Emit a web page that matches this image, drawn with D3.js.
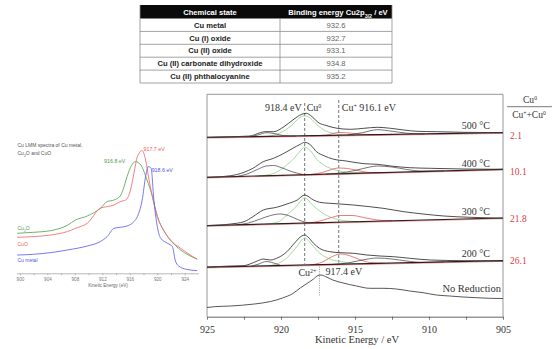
<!DOCTYPE html>
<html>
<head>
<meta charset="utf-8">
<script src="https://cdn.jsdelivr.net/npm/d3@7"></script>
<style>
  html, body { margin: 0; padding: 0; background: #fff; }
  svg { display: block; }
</style>
</head>
<body>
<div id="chart"></div>
<script>
// ---- table: Cu 2p3/2 binding energies
const tableStates = ['Cu metal', 'Cu (I) oxide', 'Cu (II) oxide', 'Cu (II) carbonate dihydroxide', 'Cu (II) phthalocyanine'];
const tableEnergies = ['932.6', '932.7', '933.1', '934.8', '935.2'];

// ---- left: Cu LMM reference spectra [kinetic energy eV, intensity a.u.]
const lmmTicks = [900, 904, 908, 912, 916, 920, 924];
const cu2oLmm = [[899.6, 40], [902, 41], [904.5, 42.7], [906.9, 48], [908.1, 53.3], [909.8, 57.3], [911.7, 65], [912.7, 71.7], [913.7, 73.3], [914.6, 77.3], [915, 83.3], [915.6, 96.7], [916.1, 106], [916.6, 111], [916.8, 111.7], [917.6, 108.3], [918.5, 93.3], [919.3, 76.7], [920, 56.7], [920.9, 43.3], [921.9, 33.3], [923.4, 23.3], [925.8, 14.3]];
const cuoLmm = [[899.6, 36], [902, 36.7], [904.5, 38.3], [906.9, 41.7], [908.1, 45], [909.8, 50], [911.7, 65], [912.7, 66.7], [913.7, 68.3], [914.6, 71.7], [915.4, 73.3], [916.1, 83.3], [916.6, 100], [917.1, 116.7], [917.8, 122.7], [918.3, 113.3], [918.8, 93.3], [919.5, 70], [920.2, 53.3], [920.9, 43.3], [921.9, 33.3], [923.4, 25], [925.8, 14]];
const cuMetalLmm = [[899.6, 18.3], [902, 19], [904.5, 20.7], [906.9, 23.3], [909.8, 27.3], [911.7, 31.7], [912.7, 36.7], [913.7, 45], [914.6, 46], [915.6, 47.3], [916.6, 51.7], [917.1, 56.7], [917.8, 73.3], [918.3, 96.7], [918.7, 106.7], [919.1, 105], [919.5, 73.3], [920, 46.7], [920.5, 35], [921.5, 30], [922.2, 26.7], [922.6, 13.3], [923.1, 7.3], [924.3, 3.9], [925.8, 2.7]];
const lmmPeaks = [
  { label: '916.8 eV', e: 916.8, v: 111.7, color: '#4f9a4a' },
  { label: '917.7 eV', e: 917.7, v: 122.7, color: '#ee5a5a' },
  { label: '918.6 eV', e: 918.6, v: 106.7, color: '#5252ee' }
];

// ---- right: Auger spectra after reduction [kinetic energy eV, intensity a.u.]
const augerTicks = [925, 920, 915, 910, 905];
const temps = ['500 °C', '400 °C', '300 °C', '200 °C'];
const ratios = ['2.1', '10.1', '21.8', '26.1'];

const raw500 = [[925, 179.3], [923.4, 180], [922.1, 180.7], [921.4, 184], [921.1, 185], [920.5, 185], [919.8, 190], [919.2, 196.7], [918.6, 202.4], [918.3, 203.4], [917.9, 200], [917.5, 194.4], [916.9, 191], [916.2, 188.4], [915.3, 187.4], [914.4, 188.4], [913.5, 189.4], [912.6, 188.4], [911.7, 186.7], [910.8, 185.4], [909.5, 185], [907.7, 184.4], [905, 184]];
const base500 = [[925, 179.3], [905, 184]];
const cu0_500 = [[921, 180.2], [920.3, 182.4], [919.7, 186.7], [919.2, 192.4], [918.8, 198.4], [918.4, 201], [918, 198.4], [917.6, 192.4], [917.1, 186.7], [916.5, 183.4], [915.6, 181.7], [915, 181.6]];
const cuI_500 = [[918, 180.9], [917, 181.5], [916.1, 184.2], [915, 183.2], [914, 182], [913, 182.1]];
const satL_500 = [[922, 180.1], [921.5, 182], [921, 184], [920.4, 183], [919.8, 181], [919, 180.4]];
const satR_500 = [[915.5, 181.7], [914.5, 184], [913.5, 187], [912.5, 185.5], [911.5, 183.5], [910.3, 182.6]];

const raw400 = [[925, 139.4], [923.4, 141], [922.5, 144.4], [921.9, 148.4], [921.2, 155], [920.5, 158.4], [919.8, 163.4], [919.2, 168.4], [918.7, 172.4], [918.4, 174.4], [918, 171.7], [917.6, 165], [917.1, 161], [916.5, 157.7], [915.6, 155.7], [914.4, 153], [913.5, 152.4], [912.6, 150.7], [911.3, 149], [909.9, 148.4], [907.7, 147.7], [905, 147.4]];
const base400 = [[925, 139.4], [905, 147.4]];
const cu0_400 = [[921.5, 140.8], [920.5, 143.2], [919.7, 150.7], [919.1, 158.7], [918.7, 165.7], [918.4, 169.7], [918, 165.7], [917.6, 157.7], [917, 150.7], [916.3, 146.7], [915.3, 144.2], [914, 143.9]];
const cuI_400 = [[918, 142.2], [917.2, 144.2], [916.6, 147.2], [916.1, 148.7], [915.5, 148.2], [914.8, 146.2], [914, 144.2], [913, 144.2]];
const satL_400 = [[923, 140.2], [922.3, 142.7], [921.6, 147.2], [921, 150.7], [920.5, 151.2], [920, 149.2], [919.3, 145.2], [918.5, 142.2]];
const satR_400 = [[917, 142.6], [916, 143.7], [915, 146.2], [914, 149.7], [913.5, 150.7], [912.5, 149.7], [911.5, 147.2], [910.5, 145.7], [909, 145.8]];

const raw300 = [[925, 91.1], [923.4, 92.7], [922.5, 95], [921.9, 100], [921.2, 106.7], [920.3, 109.4], [919.6, 112.7], [918.9, 116.7], [918.4, 121.7], [917.8, 116.7], [917.4, 114.4], [916.7, 113.4], [916, 112.7], [915.1, 111.7], [914, 110], [913.1, 108.4], [911.7, 105], [910.4, 102.7], [909, 100.7], [907.2, 99.4], [905, 98.4]];
const base300 = [[925, 91.1], [905, 98.7]];
const cu0_300 = [[921, 92.7], [920.2, 94.7], [919.6, 101.7], [919, 109.7], [918.4, 118.7], [917.8, 110.7], [917.2, 103.7], [916.5, 98.7], [915.8, 96.2], [914.8, 95]];
const cuI_300 = [[918.5, 93.6], [917.5, 95.2], [916.7, 98.7], [916, 101.2], [915.2, 101.2], [914.4, 99.2], [913.5, 96.7], [912.5, 95.8]];
const satL_300 = [[923, 91.9], [922.2, 93.7], [921.4, 97.7], [920.7, 101.2], [920.1, 102.7], [919.5, 101.2], [918.8, 96.7], [918, 93.7], [917, 94.1]];

const raw200 = [[925, 49.5], [923.4, 50.7], [922.5, 51], [922.1, 52.7], [921.6, 55.7], [921.2, 57.7], [920.7, 56.7], [920.3, 58.4], [919.6, 65], [919.1, 73.4], [918.6, 80.7], [918.4, 81.7], [918.2, 80], [917.8, 73.4], [917.4, 68.4], [916.7, 65], [916, 64], [915.1, 63.4], [914.2, 61.7], [913.3, 60.7], [912.4, 60], [911.3, 58.4], [909.9, 56.7], [907.7, 56], [905, 55.7]];
const base200 = [[925, 49.5], [905, 56]];
const cu0_200 = [[920.8, 50.9], [920, 54.7], [919.4, 61.7], [918.9, 70.7], [918.4, 78.7], [917.9, 71.7], [917.4, 63.7], [916.8, 58.2], [916, 55.2], [915, 53.1]];
const cuI_200 = [[918, 51.8], [917.2, 54.7], [916.6, 59.7], [916, 62.7], [915.4, 61.2], [914.7, 57.2], [914, 54.2], [913, 53.4]];
const satL_200 = [[922, 50.5], [921.5, 52.7], [921, 55.2], [920.5, 53.7], [920, 51.1]];
const satR_200 = [[916.5, 52.3], [915.5, 53.7], [914.5, 56.7], [913.5, 58.7], [912.5, 57.7], [911.5, 55.7], [910.5, 54.2], [909, 54.7]];

const rawNoReduction = [[925, 9.2], [924.5, 10], [923.4, 10.7], [921.8, 12.7], [920.7, 15.2], [919.9, 18.7], [919.2, 23.2], [918.7, 28.7], [918.3, 32.7], [917.8, 37.7], [917.5, 41.2], [917.3, 41.7], [917, 40.2], [916.5, 36.7], [915.8, 33.7], [914.9, 30.7], [914, 28.4], [913.1, 28.4], [912.2, 27.7], [911.3, 25.7], [910.4, 24], [909.5, 21.7], [908.6, 20.7], [907.7, 19.7], [906.8, 19], [905.9, 18.4], [905, 18.2]];

const cu0Energy = 918.4;
const cuIEnergy = 916.1;
const cuIIEnergy = 917.4;

// ------------------------------------------------------------------
const svg = d3.select('#chart').append('svg')
  .attr('width', 553).attr('height', 349)
  .style('background', '#fff');

const sans = "'Liberation Sans', 'Open Sans', Arial, sans-serif";
const serif = "'Liberation Serif', 'DejaVu Serif', serif";

// text with superscript parts: parts = [[str, isSup], ...]
function richText(g, x, y, parts, anchor) {
  const t = g.append('text').attr('x', x).attr('y', y).attr('text-anchor', anchor || 'start');
  parts.forEach(([s, sup]) => {
    const ts = t.append('tspan').text(s);
    if (sup) ts.attr('font-size', '0.6em').attr('baseline-shift', 'super');
  });
  return t;
}

// ---- table
const table = svg.append('g').style('font-family', sans);
const tLeft = 140, tMid = 280, tRight = 392;
const rowY = d3.scaleBand().domain(tableStates).range([18.5, 83]);

table.append('rect').attr('x', tLeft).attr('y', 5).attr('width', tRight - tLeft).attr('height', 13.5).attr('fill', '#0a0a0a');
table.append('text').attr('x', (tLeft + tMid) / 2).attr('y', 14.5).attr('text-anchor', 'middle')
  .attr('fill', '#fff').attr('font-size', 7.6).attr('font-weight', 'bold').text('Chemical state');
const hdr = table.append('text').attr('x', (tMid + tRight) / 2 + 2).attr('y', 14.5).attr('text-anchor', 'middle')
  .attr('fill', '#fff').attr('font-size', 7.6).attr('font-weight', 'bold');
hdr.append('tspan').text('Binding energy Cu2p');
hdr.append('tspan').text('3/2').attr('font-size', '0.7em').attr('baseline-shift', 'sub');
hdr.append('tspan').text(' / eV');

tableStates.forEach((s, i) => {
  const y0 = rowY(s);
  table.append('text').attr('x', (tLeft + tMid) / 2).attr('y', y0 + rowY.bandwidth() / 2 + 2.7)
    .attr('text-anchor', 'middle').attr('font-size', 7.6).attr('font-weight', 'bold').attr('fill', '#222').text(s);
  table.append('text').attr('x', (tMid + tRight) / 2).attr('y', y0 + rowY.bandwidth() / 2 + 2.7)
    .attr('text-anchor', 'middle').attr('font-size', 7.6).attr('fill', '#666').text(tableEnergies[i]);
  table.append('line').attr('x1', tLeft).attr('x2', tRight).attr('y1', y0 + rowY.bandwidth()).attr('y2', y0 + rowY.bandwidth())
    .attr('stroke', '#8a8a8a').attr('stroke-width', 0.8);
});
table.append('line').attr('x1', tMid).attr('x2', tMid).attr('y1', 18.5).attr('y2', 83).attr('stroke', '#8a8a8a').attr('stroke-width', 0.8);
[tLeft, tRight].forEach(x => table.append('line').attr('x1', x).attr('x2', x).attr('y1', 5).attr('y2', 83)
  .attr('stroke', '#8a8a8a').attr('stroke-width', 0.8));

// ---- left chart
const left = svg.append('g').style('font-family', sans);
const xL = d3.scaleLinear().domain([899.5, 926]).range([16.5, 198.5]);
const yL = d3.scaleLinear().domain([0, 135]).range([273.3, 138.3]);
const lineL = d3.line().x(d => xL(d[0])).y(d => yL(d[1])).curve(d3.curveMonotoneX);

const axL = left.append('g').attr('transform', 'translate(0,273.3)')
  .call(d3.axisBottom(xL).tickValues(d3.range(900, 926, 2)).tickSize(2).tickSizeOuter(0)
    .tickFormat(d => lmmTicks.includes(d) ? d : ''));
axL.select('.domain').attr('stroke', '#999').attr('stroke-width', 0.7);
axL.selectAll('.tick line').attr('stroke', '#999').attr('stroke-width', 0.6);
axL.selectAll('.tick text').attr('font-size', 4.6).attr('fill', '#777').attr('y', 4).attr('dy', '0.71em').style('font-family', sans);
left.append('text').attr('x', 108).attr('y', 287).attr('text-anchor', 'middle').attr('font-size', 4.6).attr('fill', '#666')
  .text('Kinetic Energy (eV)');

[[cu2oLmm, '#5fa85a'], [cuoLmm, '#f27272'], [cuMetalLmm, '#6868f2']].forEach(([data, c]) => {
  left.append('path').datum(data).attr('d', lineL).attr('fill', 'none').attr('stroke', c).attr('stroke-width', 0.9);
});

left.append('text').attr('x', 17.5).attr('y', 147).attr('font-size', 5).attr('fill', '#555').text('Cu LMM spectra of Cu metal,');
const t2 = left.append('text').attr('x', 17.5).attr('y', 154.5).attr('font-size', 5).attr('fill', '#555');
t2.append('tspan').text('Cu');
t2.append('tspan').text('2').attr('font-size', '0.7em').attr('baseline-shift', 'sub');
t2.append('tspan').text('O and CuO');

const c2o = left.append('text').attr('x', 17.5).attr('y', 230).attr('font-size', 5).attr('fill', '#4f9a4a');
c2o.append('tspan').text('Cu');
c2o.append('tspan').text('2').attr('font-size', '0.7em').attr('baseline-shift', 'sub');
c2o.append('tspan').text('O');
left.append('text').attr('x', 17.5).attr('y', 246).attr('font-size', 5).attr('fill', '#ee5a5a').text('CuO');
left.append('text').attr('x', 17.5).attr('y', 261.5).attr('font-size', 5).attr('fill', '#5252ee').text('Cu metal');

const peakOffsets = [[-10, 1.5], [2, 0.5], [4, 5.5]];
lmmPeaks.forEach((p, i) => {
  left.append('text').attr('x', xL(p.e) + peakOffsets[i][0]).attr('y', yL(p.v) + peakOffsets[i][1])
    .attr('text-anchor', i === 0 ? 'end' : 'start').attr('font-size', 5.3).attr('fill', p.color).text(p.label);
});

// ---- right chart
const right = svg.append('g').style('font-family', serif);
const xR = d3.scaleLinear().domain([925, 905]).range([207, 503]);
const yR = d3.scaleLinear().domain([0, 222.4]).range([316.7, 94.3]);
const lineR = d3.line().x(d => xR(d[0])).y(d => yR(d[1])).curve(d3.curveMonotoneX);

// frame
right.append('path').attr('d', `M${xR(925)},${yR(0)}V${yR(222.4)}H${xR(905)}V${yR(0)}`)
  .attr('fill', 'none').attr('stroke', '#8c8c8c').attr('stroke-width', 0.9);

const axR = right.append('g').attr('transform', `translate(0,${yR(0)})`)
  .call(d3.axisBottom(xR).tickValues(d3.range(905, 925.1, 2.5)).tickSize(3).tickSizeOuter(0)
    .tickFormat(d => augerTicks.includes(d) ? d : ''));
axR.select('.domain').attr('stroke', '#555').attr('stroke-width', 0.9);
axR.selectAll('.tick line').attr('stroke', '#555').attr('stroke-width', 0.8);
axR.selectAll('.tick text').attr('font-size', 10).attr('fill', '#333').attr('y', 9).attr('dy', '0.71em').style('font-family', serif);
right.append('text').attr('x', 357).attr('y', 343).attr('text-anchor', 'middle').attr('font-size', 10.5).attr('fill', '#333')
  .text('Kinetic Energy / eV');

// reference lines
const dashG = right.append('g').attr('stroke', '#666').attr('stroke-width', 0.9);
dashG.append('line').attr('x1', xR(cu0Energy)).attr('x2', xR(cu0Energy)).attr('y1', 103).attr('y2', yR(53)).attr('stroke-dasharray', '3,2');
dashG.append('line').attr('x1', xR(cuIEnergy)).attr('x2', xR(cuIEnergy)).attr('y1', 100).attr('y2', yR(54)).attr('stroke-dasharray', '3,2');
dashG.append('line').attr('x1', xR(cuIIEnergy)).attr('x2', xR(cuIIEnergy)).attr('y1', yR(50)).attr('y2', yR(21)).attr('stroke-dasharray', '1,1.3').attr('stroke', '#888');

const spectra = [
  { raw: raw500, base: base500, comps: [[cu0_500, 'g'], [cuI_500, 'r'], [satL_500, 'k'], [satR_500, 'k']] },
  { raw: raw400, base: base400, comps: [[cu0_400, 'g'], [cuI_400, 'r'], [satL_400, 'k'], [satR_400, 'k']] },
  { raw: raw300, base: base300, comps: [[cu0_300, 'g'], [cuI_300, 'r'], [satL_300, 'k']] },
  { raw: raw200, base: base200, comps: [[cu0_200, 'g'], [cuI_200, 'r'], [satL_200, 'k'], [satR_200, 'k']] }
];
const compColor = { g: '#90cf8c', r: '#e25c5c', k: '#505050' };

spectra.forEach(s => {
  s.comps.forEach(([data, k]) => {
    right.append('path').datum(data).attr('d', lineR).attr('fill', 'none')
      .attr('stroke', compColor[k]).attr('stroke-width', 0.8);
  });
  right.append('path').datum(s.base).attr('d', lineR).attr('fill', 'none').attr('stroke', '#1a1a1a').attr('stroke-width', 1.2);
  right.append('path').datum(s.base).attr('d', lineR).attr('fill', 'none').attr('stroke', '#d03a3a').attr('stroke-width', 0.5)
    .attr('transform', 'translate(0,0.7)');
  right.append('path').datum(s.raw).attr('d', lineR).attr('fill', 'none').attr('stroke', '#3a3a3a').attr('stroke-width', 0.9);
});
right.append('path').datum(rawNoReduction).attr('d', lineR).attr('fill', 'none').attr('stroke', '#444').attr('stroke-width', 0.9);

// labels
const labG = right.append('g').attr('fill', '#333').attr('font-size', 10);
labG.append('text').attr('x', xR(cu0Energy) - 3).attr('y', 111).attr('text-anchor', 'end').text('918.4 eV');
richText(labG, xR(cu0Energy) + 2, 111, [['Cu', false], ['0', true]]);
richText(labG, xR(cuIEnergy) + 3, 111, [['Cu', false], ['+', true], [' 916.1 eV', false]]);
richText(labG, xR(cuIIEnergy) - 3, 276, [['Cu', false], ['2+', true]], 'end');
labG.append('text').attr('x', xR(cuIIEnergy) + 6).attr('y', 275).text('917.4 eV');

const tempY = [129, 166.5, 215, 257];
temps.forEach((t, i) => {
  labG.append('text').attr('x', 490).attr('y', tempY[i]).attr('text-anchor', 'end').text(t);
});
labG.append('text').attr('x', 501).attr('y', 292).attr('text-anchor', 'end').attr('font-size', 10.5).text('No Reduction');

// ratio column
const ratioG = svg.append('g').style('font-family', serif).attr('font-size', 9.5);
richText(ratioG, 530, 103, [['Cu', false], ['0', true]], 'middle').attr('fill', '#333');
ratioG.append('line').attr('x1', 507).attr('x2', 552).attr('y1', 106.7).attr('y2', 106.7).attr('stroke', '#555').attr('stroke-width', 0.8);
richText(ratioG, 529, 117.5, [['Cu', false], ['+', true], ['+Cu', false], ['0', true]], 'middle').attr('fill', '#333');
const ratioY = [138.5, 175, 222, 264];
ratios.forEach((r, i) => {
  ratioG.append('text').attr('x', 510).attr('y', ratioY[i]).attr('fill', '#d9404a').text(r);
});
</script>
</body>
</html>
